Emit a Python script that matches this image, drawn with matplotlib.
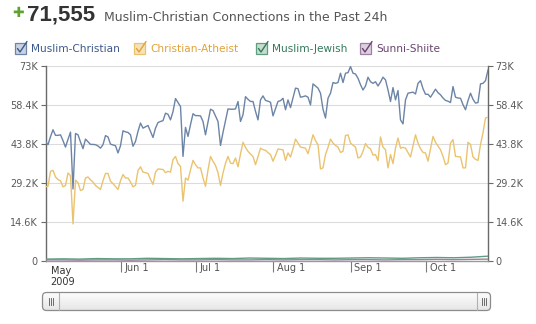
import matplotlib
matplotlib.use('Agg')
import matplotlib.pyplot as plt
import matplotlib.dates as mdates
import matplotlib.transforms as mtransforms
from matplotlib.patches import Rectangle, FancyBboxPatch
from matplotlib.lines import Line2D
import numpy as np
import pandas as pd

# ---------------- data (values in thousands) ----------------
start_date = '2009-05-02'
end_date = '2009-10-26'

muslim_christian = [
    44.7, 43.5, 46.5, 49.1, 47.0, 47.0, 47.2, 45.0, 42.6, 45.5,
    48.2, 26.9, 47.7, 47.2, 44.5, 42.0, 45.6, 44.6, 43.6, 43.6,
    43.5, 43.0, 42.2, 43.5, 46.9, 46.4, 43.7, 43.4, 43.1, 40.4,
    43.1, 48.7, 48.3, 48.1, 47.2, 42.9, 44.7, 48.5, 51.6, 49.7,
    50.2, 50.7, 48.5, 46.2, 49.7, 51.8, 52.2, 52.5, 55.3, 54.9,
    52.8, 55.9, 60.8, 59.3, 57.8, 39.1, 50.0, 46.6, 51.0, 55.1,
    54.4, 54.4, 54.3, 52.2, 47.2, 52.0, 56.8, 56.3, 54.2, 52.2,
    43.2, 48.1, 52.5, 56.9, 56.8, 56.8, 56.9, 59.7, 52.2, 54.7,
    61.5, 60.5, 59.7, 59.7, 56.0, 52.8, 60.3, 61.8, 60.1, 59.8,
    59.4, 54.3, 57.0, 59.7, 60.0, 60.9, 56.6, 60.3, 57.4, 61.0,
    64.7, 64.5, 61.3, 61.5, 61.8, 61.3, 58.4, 66.3, 65.5, 64.7,
    62.8, 56.8, 53.5, 60.9, 62.8, 66.8, 66.5, 66.8, 70.3, 66.8,
    70.3, 70.5, 72.8, 70.3, 70.0, 68.4, 66.0, 64.0, 65.5, 68.8,
    67.1, 66.5, 67.1, 65.5, 67.0, 68.8, 67.8, 64.0, 59.7, 64.9,
    60.3, 63.8, 52.8, 51.3, 60.3, 62.8, 63.0, 63.2, 62.5, 66.5,
    67.5, 64.5, 62.4, 62.4, 61.3, 62.8, 64.3, 63.0, 62.2, 61.0,
    60.1, 59.8, 59.3, 65.3, 61.3, 61.0, 60.9, 58.5, 56.6, 60.0,
    62.8, 60.5, 59.1, 59.3, 66.3, 66.5, 67.5, 71.5,
]

christian_atheist = [
    27.7, 27.9, 33.5, 33.9, 31.4, 30.4, 30.0, 27.7, 28.2, 32.9,
    31.9, 13.8, 30.2, 29.2, 26.3, 26.7, 31.0, 31.4, 30.3, 29.5,
    28.2, 27.5, 26.7, 30.0, 32.7, 32.7, 29.8, 28.9, 27.8, 26.7,
    30.0, 32.3, 31.0, 31.0, 29.5, 27.7, 28.3, 33.8, 35.2, 33.2,
    33.0, 32.7, 30.5, 28.6, 33.2, 34.4, 34.3, 34.2, 33.0, 33.5,
    33.2, 37.9, 39.1, 36.4, 35.4, 22.3, 31.0, 30.2, 34.0, 37.6,
    36.0, 34.8, 34.8, 31.0, 27.9, 34.0, 39.1, 37.3, 35.7, 33.0,
    28.2, 32.9, 36.5, 39.1, 36.6, 36.4, 38.5, 35.2, 40.0, 44.4,
    42.5, 41.0, 40.0, 39.1, 36.0, 39.0, 42.2, 41.6, 41.4, 40.5,
    39.8, 37.3, 39.5, 41.9, 41.7, 41.6, 37.6, 40.4, 38.9, 42.0,
    45.6, 44.1, 42.6, 42.4, 42.2, 40.1, 43.5, 47.2, 45.0, 43.5,
    34.4, 34.8, 39.8, 42.5, 45.6, 44.1, 43.2, 42.6, 40.6, 41.0,
    46.9, 47.2, 44.1, 43.3, 42.6, 38.5, 38.9, 41.0, 43.9, 42.5,
    41.9, 39.6, 39.8, 37.5, 46.4, 42.6, 41.6, 34.8, 39.8, 36.4,
    42.2, 46.0, 42.2, 42.5, 42.2, 40.5, 38.9, 43.0, 47.2, 44.1,
    42.0, 40.6, 40.4, 37.3, 42.0, 46.6, 44.4, 43.0, 41.6, 39.1,
    36.0, 36.6, 44.1, 45.4, 39.1, 39.0, 38.9, 34.8, 34.8, 44.4,
    43.6, 38.9, 38.0, 37.6, 43.5, 48.0, 53.5, 53.8,
]

# sampled weekly (27 evenly spaced points over the same span)
muslim_jewish = [
    0.6, 0.7, 0.6, 0.8, 0.7, 0.7, 0.9, 0.8, 0.7, 0.8,
    0.9, 0.8, 1.0, 0.9, 0.8, 1.0, 0.9, 0.9, 1.0, 1.1,
    1.0, 0.9, 1.1, 1.2, 1.1, 1.3, 1.7,
]
sunni_shiite = [
    0.3, 0.3, 0.2, 0.3, 0.3, 0.2, 0.3, 0.4, 0.3, 0.3,
    0.4, 0.3, 0.3, 0.4, 0.3, 0.4, 0.4, 0.3, 0.4, 0.4,
    0.3, 0.4, 0.4, 0.5, 0.4, 0.5, 0.6,
]

series_names = ['Muslim-Christian', 'Christian-Atheist', 'Muslim-Jewish', 'Sunni-Shiite']
line_colors = ['#6c84a6', '#eac36f', '#5f9c80', '#9d7fa3']
legend_text_colors = ['#3d5989', '#dfa33d', '#347a5b', '#6b4370']
box_fill = ['#c9d3e3', '#f5e2b8', '#c4ddcf', '#ddd0e0']

y_ticks = [0, 14.6, 29.2, 43.8, 58.4, 73.0]
y_tick_labels = ['0', '14.6K', '29.2K', '43.8K', '58.4K', '73K']
x_tick_dates = ['2009-06-01', '2009-07-01', '2009-08-01', '2009-09-01', '2009-10-01']
x_tick_labels = ['Jun 1', 'Jul 1', 'Aug 1', 'Sep 1', 'Oct 1']
first_label = 'May\n2009'

headline_value = '71,555'
headline_text = 'Muslim-Christian Connections in the Past 24h'

# ---------------- figure ----------------
W, H = 536, 324
fig = plt.figure(figsize=(W / 100, H / 100), dpi=100)
fig.patch.set_facecolor('white')

# overlay axes in pixel coordinates for decorations
ov = fig.add_axes([0, 0, 1, 1])
ov.set_xlim(0, W)
ov.set_ylim(H, 0)
ov.axis('off')
ov.patch.set_alpha(0)

# main plot axes
L, R, T, B = 45.5, 488, 66, 260.7
ax = fig.add_axes([L / W, 1 - B / H, (R - L) / W, (B - T) / H])
ax.patch.set_alpha(0)

daily_dates = pd.date_range(start_date, periods=len(muslim_christian), freq='D')
minor_dates = pd.date_range(start_date, end_date, periods=len(muslim_jewish))

ax.plot(minor_dates, sunni_shiite, color=line_colors[3], lw=1.0, zorder=3)
ax.plot(minor_dates, muslim_jewish, color=line_colors[2], lw=1.0, zorder=3)
ax.plot(daily_dates, christian_atheist, color=line_colors[1], lw=1.0, zorder=4)
ax.plot(daily_dates, muslim_christian, color=line_colors[0], lw=1.0, zorder=5)

ax.set_xlim(pd.Timestamp(start_date), pd.Timestamp(end_date))
ax.set_ylim(0, 73)

ax.set_yticks(y_ticks)
ax.set_yticklabels(y_tick_labels)
ax.grid(axis='y', color='#dcdcdc', lw=0.8, zorder=0)
ax.set_axisbelow(True)
ax.tick_params(axis='y', which='both', left=True, right=True,
               labelleft=True, labelright=True, length=3.5, width=0.8,
               color='#6a6a6a', labelcolor='#5a5a5a', labelsize=7, pad=2)

ax.spines['top'].set_visible(False)
for s in ['left', 'right']:
    ax.spines[s].set_color('#6a6a6a')
    ax.spines[s].set_linewidth(1.0)
ax.spines['bottom'].set_color('#9a9a9a')
ax.spines['bottom'].set_linewidth(1.0)

ax.set_xticks(mdates.date2num(pd.to_datetime(x_tick_dates)))
ax.set_xticklabels(x_tick_labels)
ax.tick_params(axis='x', length=8, width=0.8, color='#7a7a7a',
               labelcolor='#555555', labelsize=7, pad=0)
offset = mtransforms.ScaledTranslation(0.04, 0.085, fig.dpi_scale_trans)
for lab in ax.get_xticklabels():
    lab.set_horizontalalignment('left')
    lab.set_transform(lab.get_transform() + offset)

ov.text(L + 5, 266, first_label, ha='left', va='top', fontsize=7,
        color='#333333', linespacing=1.15)

# ---------------- header ----------------
ov.text(18, 13, '\u271a', ha='center', va='center', fontsize=10, color='#5ea332')
ov.text(27, 21, headline_value, ha='left', va='baseline', fontsize=16,
        fontweight='bold', color='#333333', family='Liberation Sans')
ov.text(104, 21, headline_text, ha='left', va='baseline', fontsize=9,
        color='#555555')

# ---------------- legend ----------------
box_x = [15, 134, 256, 360]
text_x = [31, 150, 272, 376]
for i, name in enumerate(series_names):
    bx = box_x[i]
    ov.add_patch(Rectangle((bx, 43), 11, 11, fc=box_fill[i],
                           ec=line_colors[i], lw=0.9))
    ov.add_line(Line2D([bx + 2.5, bx + 5, bx + 12], [48.5, 52, 41.5],
                       color=legend_text_colors[i], lw=1.0,
                       solid_capstyle='round'))
    ov.text(text_x[i], 48.5, name, ha='left', va='center', fontsize=7.6,
            color=legend_text_colors[i])

# ---------------- scrollbar ----------------
sb = FancyBboxPatch((42.5, 292.5), 448, 18,
                    boxstyle='round,pad=0,rounding_size=4',
                    fc='none', ec='#8c8c8c', lw=0.9, zorder=3)
ov.add_patch(sb)
grad = np.linspace(0, 1, 50).reshape(-1, 1)
img = ov.imshow(grad, cmap=matplotlib.colors.LinearSegmentedColormap.from_list(
    'g', ['#fefefe', '#e6e6e6']), extent=[42.5, 490.5, 310.5, 292.5],
    aspect='auto', zorder=2)
img.set_clip_path(sb)
ov.set_xlim(0, W)
ov.set_ylim(H, 0)
for xs in [58.5, 476.5]:
    ov.add_line(Line2D([xs, xs], [293, 310], color='#b0b0b0', lw=0.8, zorder=4))
for xs in [48.5, 50.5, 52.5, 481.5, 483.5, 485.5]:
    ov.add_line(Line2D([xs, xs], [298, 305], color='#555555', lw=0.6, zorder=4))

fig.savefig('out.png', dpi=100)
